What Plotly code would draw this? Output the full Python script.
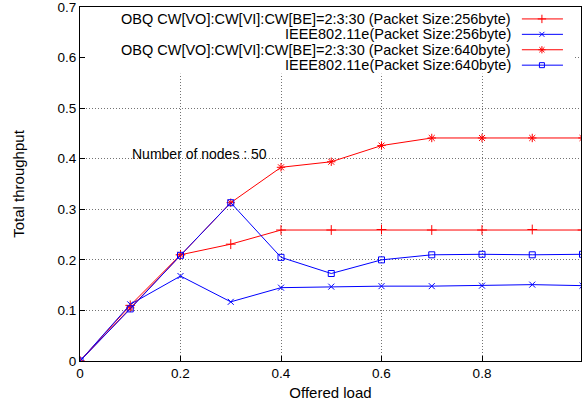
import plotly.graph_objects as go

offered_load = [0.0, 0.1, 0.2, 0.3, 0.4, 0.5, 0.6, 0.7, 0.8, 0.9, 1.0]
obq_256 = [0.0, 0.110, 0.210, 0.231, 0.259, 0.259, 0.260, 0.259, 0.259, 0.260, 0.259]
ieee_256 = [0.0, 0.112, 0.168, 0.117, 0.145, 0.147, 0.148, 0.148, 0.149, 0.151, 0.149]
obq_640 = [0.0, 0.105, 0.210, 0.313, 0.383, 0.394, 0.426, 0.441, 0.441, 0.441, 0.441]
ieee_640 = [0.0, 0.103, 0.209, 0.313, 0.205, 0.173, 0.200, 0.210, 0.211, 0.210, 0.211]

x_ticks = [0, 0.2, 0.4, 0.6, 0.8, 1.0]
x_tick_labels = ["0", "0.2", "0.4", "0.6", "0.8", "1"]
y_ticks = [0, 0.1, 0.2, 0.3, 0.4, 0.5, 0.6, 0.7]
y_tick_labels = ["0", "0.1", "0.2", "0.3", "0.4", "0.5", "0.6", "0.7"]

names = [
    "OBQ CW[VO]:CW[VI]:CW[BE]=2:3:30 (Packet Size:256byte)",
    "IEEE802.11e(Packet Size:256byte)",
    "OBQ CW[VO]:CW[VI]:CW[BE]=2:3:30 (Packet Size:640byte)",
    "IEEE802.11e(Packet Size:640byte)",
]
series = [obq_256, ieee_256, obq_640, ieee_640]
colors = ["#ff0000", "#0000ff", "#ff0000", "#0000ff"]
symbols = ["cross-thin", "x-thin", "asterisk-open", "square-open"]
sizes = [7, 6, 7, 6]

FONT = "Liberation Sans, Arial, sans-serif"
fig = go.Figure()

for s, c, sym, sz in zip(series, colors, symbols, sizes):
    fig.add_trace(go.Scatter(
        x=offered_load, y=s, mode="lines+markers",
        line=dict(color=c, width=1),
        marker=dict(symbol=sym, size=sz, color=c, line=dict(color=c, width=1)),
        showlegend=False,
    ))

# custom legend (text on the left, sample on the right), on a hidden overlay axis
leg_rows = [0.9663, 0.9228, 0.8792, 0.8357]
leg_x0, leg_x1, leg_xm, leg_text_x = 0.882, 0.964, 0.922, 0.863
for row, c, sym, sz, nm in zip(leg_rows, colors, symbols, sizes, names):
    fig.add_trace(go.Scatter(
        x=[leg_x0, leg_x1], y=[row, row], mode="lines", xaxis="x2", yaxis="y2",
        line=dict(color=c, width=1), showlegend=False, hoverinfo="skip"))
    fig.add_trace(go.Scatter(
        x=[leg_xm], y=[row], mode="markers", xaxis="x2", yaxis="y2",
        marker=dict(symbol=sym, size=sz - 1, color=c, line=dict(color=c, width=1)),
        showlegend=False, hoverinfo="skip"))
    fig.add_annotation(x=leg_text_x, y=row, xref="x2", yref="y2", text=nm,
                       showarrow=False, xanchor="right", yanchor="middle",
                       borderpad=0,
                       font=dict(family=FONT, size=14.5, color="black"))

# white legend box hiding grid
fig.add_shape(type="rect", xref="x", yref="y", x0=0, x1=0.985, y0=0.568, y1=0.7,
              fillcolor="white", line=dict(width=0), layer="between")

fig.add_annotation(x=0.1, y=0.41, xref="x", yref="y", text="Number of nodes : 50",
                   showarrow=False, xanchor="left", yanchor="middle",
                   font=dict(family=FONT, size=14, color="black"))

grid = dict(showgrid=True, gridcolor="rgba(0,0,0,0.55)", griddash="1px,2px",
            gridwidth=1, zeroline=False)
fig.update_layout(
    width=582, height=414,
    margin=dict(l=80, r=0, t=5, b=53),
    paper_bgcolor="white", plot_bgcolor="white",
    font=dict(family=FONT, size=13, color="black"),
    xaxis=dict(range=[0, 0.997], tickvals=x_ticks, ticktext=x_tick_labels,
               ticks="inside", ticklen=5, tickcolor="black", showline=True,
               linecolor="black", linewidth=1, mirror=True,
               tickfont=dict(size=13.5), ticklabeloverflow="allow",
               title=dict(text="Offered load", standoff=7, font=dict(size=15)),
               **grid),
    yaxis=dict(range=[0, 0.7], tickvals=y_ticks, ticktext=y_tick_labels,
               ticks="inside", ticklen=5, tickcolor="black", showline=True,
               linecolor="black", linewidth=1, mirror=True,
               tickfont=dict(size=13.5), ticklabeloverflow="allow",
               title=dict(text="Total throughput", standoff=29, font=dict(size=15)),
               **grid),
    xaxis2=dict(range=[0, 1], overlaying="x", visible=False, showgrid=False),
    yaxis2=dict(range=[0, 1], overlaying="y", visible=False, showgrid=False),
)

fig.write_html("out.html")
